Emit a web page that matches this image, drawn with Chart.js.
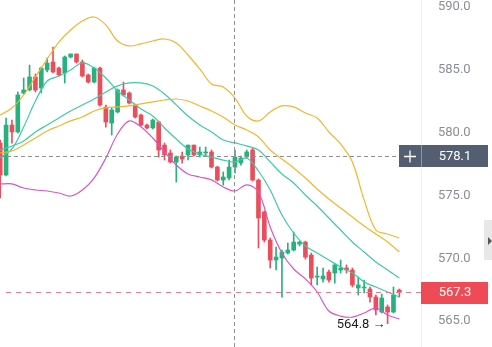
<!DOCTYPE html>
<html>
<head>
<meta charset="utf-8">
<script src="https://cdn.jsdelivr.net/npm/chart.js@4.4.1/dist/chart.umd.min.js"></script>
<style>
  html, body { margin: 0; padding: 0; background: #fff; }
  canvas { display: block; }
</style>
</head>
<body>
<canvas id="chart" width="492" height="347"></canvas>
<script>
// candles, one per bar (index 0..68)
const opens  = [579.16,576.62,580.59,580.04,583.14,583.38,584.41,583.53,584.97,585.60,585.12,584.73,586.00,586.24,585.60,584.57,584.01,585.12,582.02,580.75,581.63,583.38,583.14,582.18,581.39,580.59,580.36,580.83,579.00,578.37,577.65,578.13,578.21,579.00,578.21,578.37,578.45,577.25,576.22,576.38,577.25,577.57,578.05,578.61,576.22,573.68,571.45,569.86,570.02,570.42,570.66,571.13,571.29,570.26,568.51,568.35,568.91,568.83,569.07,569.23,569.07,567.64,567.64,567.56,566.92,565.73,566.13,565.73,567.48];
const closes = [576.62,580.59,580.04,582.98,583.38,584.41,583.38,585.12,585.52,584.81,584.57,586.00,586.24,585.60,584.49,584.01,585.12,582.18,580.83,581.79,583.38,582.98,582.34,581.23,580.59,580.36,580.99,578.61,578.21,577.65,578.05,577.89,579.00,578.21,578.45,578.45,577.25,576.22,576.46,577.25,578.05,577.97,578.45,576.22,573.20,571.45,569.86,570.10,570.50,570.66,571.29,571.29,570.10,568.43,568.59,568.59,568.27,569.47,569.23,569.07,567.88,567.88,567.72,566.92,565.89,566.84,565.73,567.08,567.30];
const highs  = [579.40,581.15,580.99,583.22,584.33,585.36,584.65,585.20,585.92,586.79,585.20,586.08,586.24,586.24,585.76,584.65,585.20,585.20,582.18,581.95,583.46,584.01,583.22,582.26,581.47,580.67,581.07,580.91,579.16,578.61,578.13,578.45,579.00,579.00,578.84,578.84,578.61,577.33,576.86,577.81,578.61,578.13,578.61,578.77,576.30,573.76,571.61,570.90,570.66,571.21,572.09,571.37,571.37,570.42,569.31,569.23,569.07,569.54,569.86,569.47,569.23,568.51,568.27,567.72,567.08,567.16,566.29,567.72,567.56];
const lows   = [574.79,576.54,579.16,579.96,583.06,583.30,583.22,583.14,584.81,584.73,584.49,583.93,585.92,585.52,584.41,583.93,583.93,582.10,580.43,579.80,581.55,582.90,582.26,581.15,580.51,580.28,580.28,578.05,577.81,577.57,576.06,577.57,577.81,578.13,578.05,578.13,577.18,576.14,575.82,576.22,576.78,577.41,577.97,576.14,570.82,571.29,569.23,569.07,566.92,570.34,570.58,570.98,569.94,567.88,567.88,568.11,568.11,568.03,568.83,568.83,567.72,567.08,567.24,566.52,565.49,565.65,564.80,565.65,566.92];

// indicator lines, read at every second candle
const lineIdx   = [0,2,4,6,8,10,12,14,16,18,20,22,24,26,28,30,32,34,36,38,40,42,44,46,48,50,52,54,56,58,60,62,64,66,68];
const bandUpper = [581.39,581.95,582.98,584.41,585.84,587.19,588.15,588.86,589.18,588.55,587.27,586.88,587.04,587.27,587.43,587.12,586.16,585.05,583.86,583.62,582.74,581.31,580.92,581.63,582.11,582.03,581.55,581.15,580.04,579.09,577.66,574.64,572.25,571.93,571.61];
const bandMid   = [578.37,578.53,579.01,579.56,580.12,580.52,580.92,581.23,581.71,581.95,582.03,582.11,582.27,582.43,582.58,582.66,582.50,582.11,581.71,581.23,580.60,580.20,579.64,578.61,577.89,577.18,576.38,575.51,574.71,574.00,573.28,572.57,571.93,571.30,570.50];
const maSlow    = [578.61,578.93,579.33,580.04,580.60,581.15,581.71,582.19,582.66,583.22,583.70,583.94,583.94,583.70,583.06,582.19,581.31,580.60,580.04,579.40,579.17,578.93,578.61,577.66,576.70,575.99,575.03,574.16,573.20,572.25,571.30,570.50,569.71,569.07,568.43];
const maFast    = [577.97,578.69,580.44,582.50,584.09,584.49,584.97,585.53,585.13,584.33,583.30,582.58,581.87,581.31,580.36,579.48,578.69,578.29,578.05,577.81,577.66,577.97,576.94,575.43,573.44,572.01,570.98,570.42,569.87,569.31,568.83,568.12,567.72,567.32,566.92];
const bandLower = [575.91,575.91,575.59,575.43,575.35,575.19,574.95,575.43,576.38,577.97,579.88,580.92,580.44,579.56,578.45,577.42,576.70,576.46,576.23,575.67,575.35,575.83,575.27,572.49,570.42,569.15,568.36,567.32,565.81,565.41,565.33,565.65,566.05,565.49,565.18];

const yTicks = [565, 570, 575, 580, 585, 590];
const crossIdx = 39.9;     // crosshair position
const crossPrice = 578.1;
const lastPrice = 567.3;
const lowIdx = 66;         // lowest candle shown
const lowPrice = 564.8;

const upColor = '#27b17f';
const downColor = '#ea4e5c';
const candleColors = opens.map((o, i) => closes[i] >= o ? upColor : downColor);
const xs = opens.map((o, i) => i);

function lineSet(values, color) {
    return {
        type: 'line',
        data: values.map((v, k) => ({ x: lineIdx[k], y: v })),
        borderColor: color,
        borderWidth: 1.2,
        pointRadius: 0,
        tension: 0.35,
        order: 0
    };
}

// crosshair, price labels and the low marker
const overlay = {
    id: 'overlay',
    afterDatasetsDraw(chart) {
        const ctx = chart.ctx;
        const xS = chart.scales.x, yS = chart.scales.y;
        const cx = Math.round(xS.getPixelForValue(crossIdx)) + 0.5;
        const cy = Math.round(yS.getPixelForValue(crossPrice)) + 0.5;
        const ly = Math.round(yS.getPixelForValue(lastPrice)) + 0.5;
        ctx.save();
        ctx.lineWidth = 1;

        ctx.setLineDash([4, 3]);
        ctx.strokeStyle = '#8f8f8f';
        ctx.beginPath();
        ctx.moveTo(cx, 0); ctx.lineTo(cx, chart.height);
        ctx.moveTo(0, cy); ctx.lineTo(399, cy);
        ctx.stroke();

        ctx.setLineDash([5, 5]);
        ctx.strokeStyle = '#e57d8b';
        ctx.beginPath();
        ctx.moveTo(6, ly); ctx.lineTo(421, ly);
        ctx.stroke();
        ctx.setLineDash([]);

        // crosshair price box
        ctx.fillStyle = '#535e70';
        ctx.fillRect(399, cy - 11.5, 89, 22);
        ctx.strokeStyle = 'rgba(255,255,255,0.35)';
        ctx.beginPath();
        ctx.moveTo(421.5, cy - 11.5); ctx.lineTo(421.5, cy + 10.5);
        ctx.stroke();
        ctx.strokeStyle = '#ffffff';
        ctx.lineWidth = 1.3;
        ctx.beginPath();
        ctx.moveTo(404, cy); ctx.lineTo(416, cy);
        ctx.moveTo(410, cy - 6); ctx.lineTo(410, cy + 6);
        ctx.stroke();

        ctx.font = '13px Roboto';
        ctx.textAlign = 'center';
        ctx.textBaseline = 'middle';
        ctx.fillStyle = '#ffffff';
        ctx.fillText(crossPrice.toFixed(1), 455, cy);

        // last price box
        ctx.fillStyle = '#ee4b57';
        ctx.fillRect(421, ly - 10.5, 67, 22);
        ctx.fillStyle = '#ffffff';
        ctx.fillText(lastPrice.toFixed(1), 455, ly + 0.5);

        // low marker
        ctx.fillStyle = '#1d1d1d';
        ctx.textAlign = 'right';
        ctx.fillText(lowPrice.toFixed(1) + ' \u2192', xS.getPixelForValue(lowIdx) - 2, yS.getPixelForValue(lowPrice) + 1);

        // side tab
        ctx.fillStyle = '#e8e8e8';
        ctx.fillRect(484, 220, 8, 40);
        ctx.fillStyle = '#555555';
        ctx.beginPath();
        ctx.moveTo(488, 237); ctx.lineTo(488, 245); ctx.lineTo(492, 241);
        ctx.closePath();
        ctx.fill();
        ctx.restore();
    }
};

new Chart(document.getElementById('chart'), {
    type: 'bar',
    data: {
        datasets: [
            lineSet(bandUpper, '#f4b52c'),
            lineSet(bandMid, '#f4b52c'),
            lineSet(maSlow, '#3dcaa8'),
            lineSet(maFast, '#3dcaa8'),
            lineSet(bandLower, '#d957c4'),
            {
                type: 'bar',
                data: xs.map(i => ({ x: i, y: [lows[i], highs[i]] })),
                backgroundColor: candleColors,
                barThickness: 1,
                grouped: false,
                borderWidth: 0,
                order: 2
            },
            {
                type: 'bar',
                data: xs.map(i => ({ x: i, y: [opens[i], closes[i]] })),
                backgroundColor: candleColors,
                barThickness: 4,
                minBarLength: 1,
                grouped: false,
                borderWidth: 0,
                order: 1
            }
        ]
    },
    options: {
        responsive: false,
        animation: false,
        devicePixelRatio: 1,
        layout: { padding: 0 },
        plugins: { legend: { display: false }, tooltip: { enabled: false } },
        scales: {
            x: {
                type: 'linear',
                min: -0.034,
                max: 71.69,
                offset: false,
                display: false
            },
            y: {
                position: 'right',
                min: 562.95,
                max: 590.53,
                afterBuildTicks: s => { s.ticks = yTicks.map(v => ({ value: v })); },
                afterFit: s => { s.width = 71; s.paddingTop = 0; s.paddingBottom = 0; },
                grid: { display: false, drawTicks: true, tickLength: 17 },
                border: { display: true, color: '#f1f1f1' },
                ticks: {
                    padding: 0,
                    color: '#8a8e96',
                    font: { family: 'Roboto', size: 13 },
                    callback: v => v.toFixed(1)
                }
            }
        }
    },
    plugins: [overlay]
});
</script>
</body>
</html>
